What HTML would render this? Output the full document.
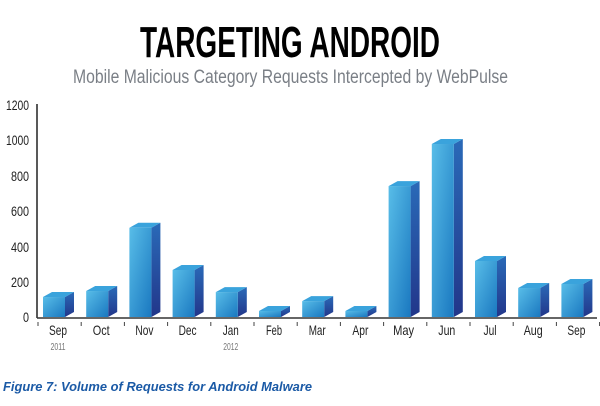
<!DOCTYPE html>
<html><head><meta charset="utf-8"><style>
html,body{margin:0;padding:0;background:#fff;width:600px;height:406px;overflow:hidden}
svg{display:block}
</style></head><body>
<svg width="600" height="406" viewBox="0 0 600 406" xmlns="http://www.w3.org/2000/svg">
<defs>
<linearGradient id="gf" x1="0" y1="0" x2="1" y2="1">
<stop offset="0" stop-color="#58bde8"/><stop offset="1" stop-color="#1a78c0"/>
</linearGradient>
<linearGradient id="gs" x1="0" y1="0" x2="0" y2="1">
<stop offset="0" stop-color="#2a6ab8"/><stop offset="1" stop-color="#22368a"/>
</linearGradient>
<linearGradient id="gl" x1="0" y1="0" x2="1" y2="0">
<stop offset="0" stop-color="#333"/><stop offset="0.5" stop-color="#aaa"/><stop offset="1" stop-color="#eee"/>
</linearGradient>
</defs>
<text x="140" y="57" font-family="'Liberation Sans',sans-serif" font-weight="bold" font-size="44" textLength="300" lengthAdjust="spacingAndGlyphs" fill="#000">TARGETING ANDROID</text>
<text x="73" y="83" font-family="'Liberation Sans',sans-serif" font-size="19" textLength="435" lengthAdjust="spacingAndGlyphs" fill="#7a7f86">Mobile Malicious Category Requests Intercepted by WebPulse</text>
<g stroke="url(#gl)" stroke-width="1.3">
<line x1="37" y1="105" x2="597" y2="105"/>
<line x1="37" y1="140" x2="597" y2="140"/>
<line x1="37" y1="176" x2="597" y2="176"/>
<line x1="37" y1="211" x2="597" y2="211"/>
<line x1="37" y1="247" x2="597" y2="247"/>
<line x1="37" y1="282" x2="597" y2="282"/>
</g>
<line x1="37" y1="104" x2="37" y2="318" stroke="#222" stroke-width="1.5"/>
<line x1="37" y1="318" x2="597" y2="318" stroke="#333" stroke-width="1.5"/>
<g font-family="'Liberation Sans',sans-serif" font-size="14" fill="#222" text-anchor="end" lengthAdjust="spacingAndGlyphs">
<text x="29" y="110" textLength="23" lengthAdjust="spacingAndGlyphs">1200</text>
<text x="29" y="145" textLength="23" lengthAdjust="spacingAndGlyphs">1000</text>
<text x="29" y="181" textLength="18" lengthAdjust="spacingAndGlyphs">800</text>
<text x="29" y="216" textLength="18" lengthAdjust="spacingAndGlyphs">600</text>
<text x="29" y="252" textLength="18" lengthAdjust="spacingAndGlyphs">400</text>
<text x="29" y="287" textLength="18" lengthAdjust="spacingAndGlyphs">200</text>
<text x="29" y="322" textLength="6" lengthAdjust="spacingAndGlyphs">0</text>
</g>
<g id="bars"></g>
<g id="lbl" font-family="'Liberation Sans',sans-serif" font-size="14" fill="#222" text-anchor="middle"></g>
<g stroke="#444" stroke-width="1" id="tk"></g>
<text x="3" y="391" font-family="'Liberation Sans',sans-serif" font-weight="bold" font-style="italic" font-size="13" textLength="309" lengthAdjust="spacingAndGlyphs" fill="#1b5aa6">Figure 7: Volume of Requests for Android Malware</text>
</svg>
<script>
var v=[113,147,505,266,141,34,90,34,741,979,317,164,187];
var m=["Sep","Oct","Nov","Dec","Jan","Feb","Mar","Apr","May","Jun","Jul","Aug","Sep"];
var lw=[18,17,18,18,16,16,17,16,21,17,13,19,18];
var ns="http://www.w3.org/2000/svg",b=document.getElementById("bars"),l=document.getElementById("lbl"),t=document.getElementById("tk");
function el(p,tag,a){var e=document.createElementNS(ns,tag);for(var k in a)e.setAttribute(k,a[k]);p.appendChild(e);return e;}
for(var i=0;i<13;i++){
 var x=43+43.2*i,w=22,d=9,h=5,y=317-v[i]*0.1767,by=317;
 el(b,"polygon",{points:(x+w)+","+y+" "+(x+w+d)+","+(y-h)+" "+(x+w+d)+","+(by-h)+" "+(x+w)+","+by,fill:"url(#gs)"});
 el(b,"polygon",{points:x+","+y+" "+(x+d)+","+(y-h)+" "+(x+w+d)+","+(y-h)+" "+(x+w)+","+y,fill:"#3aa3dc"});
 el(b,"rect",{x:x,y:y,width:w,height:by-y,fill:"url(#gf)"});
 var tx=el(l,"text",{x:x+15,y:335,textLength:lw[i],lengthAdjust:"spacingAndGlyphs"});tx.textContent=m[i];
 el(t,"line",{x1:x-5,y1:322,x2:x-5,y2:326});
}
el(t,"line",{x1:43+43.2*13-5,y1:322,x2:43+43.2*13-5,y2:326});
var a=el(l,"text",{x:58,y:350,"font-size":"10",fill:"#777",textLength:15,lengthAdjust:"spacingAndGlyphs"});a.textContent="2011";
var c=el(l,"text",{x:58+43.2*4,y:350,"font-size":"10",fill:"#777",textLength:15,lengthAdjust:"spacingAndGlyphs"});c.textContent="2012";
</script>
</body></html>
